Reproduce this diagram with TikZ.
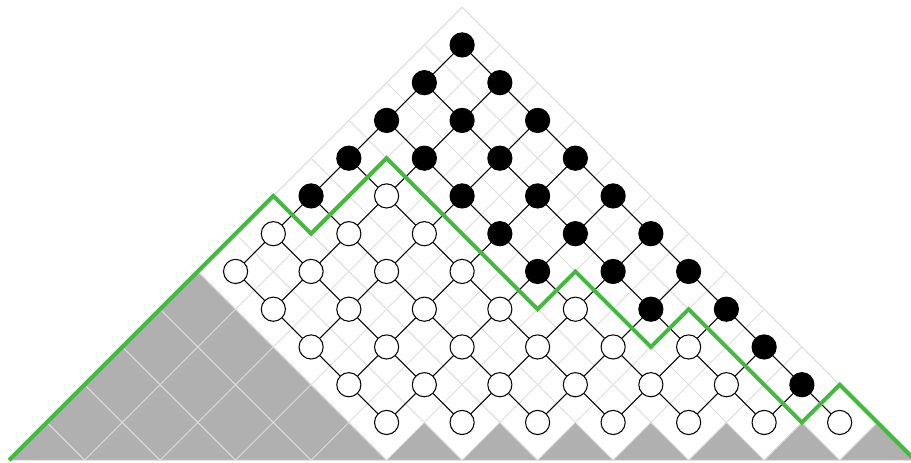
\documentclass[tikz,border=0pt]{standalone}
\begin{document}
\begin{tikzpicture}[line cap=round, line join=round]
  \definecolor{pathgreen}{RGB}{66,186,62}
  \definecolor{cellgray}{RGB}{176,176,176}
  \definecolor{gridgray}{RGB}{221,221,221}
  \tikzset{
    site/.style={circle, draw, line width=0.8pt, minimum size=0.64cm, inner sep=0pt},
    full/.style={site, fill=black},
    empty/.style={site, fill=white},
    bond/.style={line width=0.8pt},
  }
  % height of the green path at x=-12..12
  \def\hts{{0,1,2,3,4,5,6,7,6,7,8,7,6,5,4,5,4,3,4,3,2,1,2,1,0}}
  \useasboundingbox (-12.24,-0.05) rectangle (11.89,12.19);
  % grey cells
  \fill[cellgray] (-12,0)--(-7,5)--(-2,0)--cycle;
  \foreach \a in {-1,1,...,11}
    \fill[cellgray] (\a-1,0)--(\a,1)--(\a+1,0)--cycle;
  % light grid inside the big triangle
  \begin{scope}
    \clip (-12,0)--(0,12)--(12,0)--cycle;
    \foreach \c in {-12,-10,...,12} {
      \draw[gridgray, line width=0.7pt] (\c,0)--++(12,12);
      \draw[gridgray, line width=0.7pt] (\c,0)--++(-12,12);
    }
  \end{scope}
  \draw[gridgray, line width=0.7pt] (-12,0)--(0,12)--(12,0)--cycle;
  % sites
  \foreach \y in {1,...,11} {
    \pgfmathtruncatemacro\xs{max(\y-11,-1-\y)}
    \pgfmathtruncatemacro\n{(11-\y-\xs)/2}
    \foreach \i in {0,...,\n} {
      \pgfmathtruncatemacro\x{\xs+2*\i}
      \pgfmathtruncatemacro\h{\hts[\x+12]}
      \ifnum\y>\h \def\kind{full}\else\def\kind{empty}\fi
      \node[\kind] (v\x-\y) at (\x,\y) {};
    }
  }
  % bonds
  \foreach \y in {2,...,11} {
    \pgfmathtruncatemacro\xs{max(\y-11,-1-\y)}
    \pgfmathtruncatemacro\n{(11-\y-\xs)/2}
    \pgfmathtruncatemacro\yd{\y-1}
    \foreach \i in {0,...,\n} {
      \pgfmathtruncatemacro\x{\xs+2*\i}
      \pgfmathtruncatemacro\xl{\x-1}
      \pgfmathtruncatemacro\xr{\x+1}
      \draw[bond] (v\x-\y) -- (v\xr-\yd);
      \ifnum\numexpr\x+\y\relax>0 \draw[bond] (v\x-\y) -- (v\xl-\yd);\fi
    }
  }
  % green path
  \draw[pathgreen, line width=3pt, line cap=butt, line join=miter]
    (-12,0)--(-5,7)--(-4,6)--(-2,8)--(2,4)--(3,5)--(5,3)--(6,4)--(9,1)--(10,2)--(12,0);
\end{tikzpicture}
\end{document}
